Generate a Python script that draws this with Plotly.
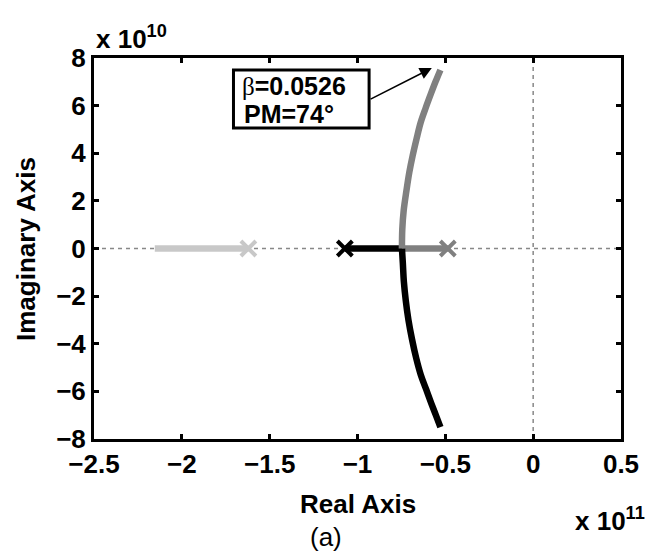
import plotly.graph_objects as go

# Root locus branches (real part in units of 1e11, imag part in units of 1e10)
light_re = [-2.154, -1.621]
light_im = [0.0, 0.0]

gray_re = [-0.486, -0.747, -0.745, -0.737, -0.722, -0.705, -0.686, -0.664, -0.640, -0.612, -0.582, -0.556, -0.528]
gray_im = [0.0, 0.0, 0.8, 1.6, 2.4, 3.2, 3.9, 4.6, 5.3, 5.9, 6.5, 7.0, 7.5]

black_re = [-1.072, -0.747, -0.742, -0.736, -0.725, -0.710, -0.690, -0.666, -0.640, -0.610, -0.580, -0.554, -0.528]
black_im = [0.0, 0.0, -0.6, -1.4, -2.2, -3.0, -3.8, -4.6, -5.3, -5.9, -6.5, -7.0, -7.5]

pole_re = [-1.621, -1.072, -0.486]
pole_im = [0.0, 0.0, 0.0]
pole_colors = ["#c8c8c8", "#000000", "#808080"]

xticks = [-2.5, -2.0, -1.5, -1.0, -0.5, 0.0, 0.5]
xtick_text = ["\u22122.5", "\u22122", "\u22121.5", "\u22121", "\u22120.5", "0", "0.5"]
yticks = [-8, -6, -4, -2, 0, 2, 4, 6, 8]
ytick_text = ["\u22128", "\u22126", "\u22124", "\u22122", "0", "2", "4", "6", "8"]

label_line1 = "=0.0526"
label_line2 = "PM=74\u00b0"
arrow_tip = (-0.577, 7.58)
arrow_tail = (-0.934, 6.24)

FONT = "Liberation Sans, Arial, sans-serif"
FS = 26

fig = go.Figure()

W = 6.5
fig.add_trace(go.Scatter(x=light_re, y=light_im, mode="lines",
                         line=dict(color="#c8c8c8", width=W), showlegend=False))
# real-axis segments
fig.add_trace(go.Scatter(x=black_re[:2], y=black_im[:2], mode="lines",
                         line=dict(color="#000000", width=W), showlegend=False))
fig.add_trace(go.Scatter(x=gray_re[:2], y=gray_im[:2], mode="lines",
                         line=dict(color="#808080", width=W), showlegend=False))
# complex branches
fig.add_trace(go.Scatter(x=black_re[1:], y=black_im[1:], mode="lines",
                         line=dict(color="#000000", width=W, shape="spline"), showlegend=False))
fig.add_trace(go.Scatter(x=gray_re[1:], y=gray_im[1:], mode="lines",
                         line=dict(color="#808080", width=W, shape="spline"), showlegend=False))
fig.add_trace(go.Scatter(x=pole_re, y=pole_im, mode="markers",
                         marker=dict(symbol="x-thin", size=15,
                                     line=dict(color=pole_colors, width=4)),
                         showlegend=False))

# dotted reference lines
fig.add_shape(type="line", xref="x", yref="y", x0=-2.5, x1=0.5, y0=0, y1=0,
              line=dict(color="#888888", width=1.5, dash="4px,4px"), layer="below")
fig.add_shape(type="line", xref="x", yref="y", x0=0, x1=0, y0=-8, y1=8,
              line=dict(color="#888888", width=1.5, dash="4px,4px"), layer="below")
# annotation box
fig.add_shape(type="rect", xref="x", yref="y", x0=-1.706, x1=-0.934, y0=5.06, y1=7.5,
              line=dict(color="black", width=3), fillcolor="white", layer="above")

axis_common = dict(showline=True, linecolor="black", linewidth=3, mirror="ticks",
                   ticks="inside", ticklen=5, tickwidth=3, tickcolor="black",
                   showgrid=False, zeroline=False,
                   tickfont=dict(family=FONT, size=FS, color="black"))

fig.update_xaxes(range=[-2.5, 0.5], tickvals=xticks,
                 ticktext=["<b>%s</b>" % t for t in xtick_text], **axis_common)
fig.update_yaxes(range=[-8, 8], tickvals=yticks,
                 ticktext=["<b>%s</b>" % t for t in ytick_text], **axis_common)

tf = dict(family=FONT, size=FS, color="black")
bf = dict(family=FONT, size=25, color="black")
annots = [
    dict(x=arrow_tip[0], y=arrow_tip[1], xref="x", yref="y",
         ax=arrow_tail[0], ay=arrow_tail[1], axref="x", ayref="y",
         text="", showarrow=True, arrowhead=2, arrowsize=1.5, arrowwidth=1.6,
         arrowcolor="black"),
    dict(x=-1.67, y=6.83, xref="x", yref="y",
         text="<span style=\"font-family:'Liberation Serif',serif\">\u03b2</span><b>%s</b>" % label_line1,
         showarrow=False, xanchor="left", yanchor="middle", font=bf),
    dict(x=-1.66, y=5.65, xref="x", yref="y", text="<b>%s</b>" % label_line2,
         showarrow=False, xanchor="left", yanchor="middle", font=bf),
    dict(x=0.5, y=-0.17, xref="paper", yref="paper", text="<b>Real Axis</b>",
         showarrow=False, xanchor="center", yanchor="middle", font=tf),
    dict(x=0.44, y=-0.258, xref="paper", yref="paper", text="(a)",
         showarrow=False, xanchor="center", yanchor="middle", font=tf),
    dict(x=-0.13, y=0.5, xref="paper", yref="paper", text="<b>Imaginary Axis</b>",
         showarrow=False, textangle=-90, xanchor="center", yanchor="middle", font=tf),
    dict(x=0.0, y=1.0, xref="paper", yref="paper", text="<b>x 10<sup>10</sup></b>",
         showarrow=False, xanchor="left", yanchor="bottom", yshift=2, font=tf),
    dict(x=1.05, y=-0.212, xref="paper", yref="paper", text="<b>x 10<sup>11</sup></b>",
         showarrow=False, xanchor="right", yanchor="middle", font=tf),
]
fig.update_layout(annotations=annots,
                  width=651, height=552,
                  margin=dict(l=94, r=28, t=58, b=113),
                  paper_bgcolor="white", plot_bgcolor="white",
                  font=dict(family=FONT, color="black"))

fig.write_html("out.html")
